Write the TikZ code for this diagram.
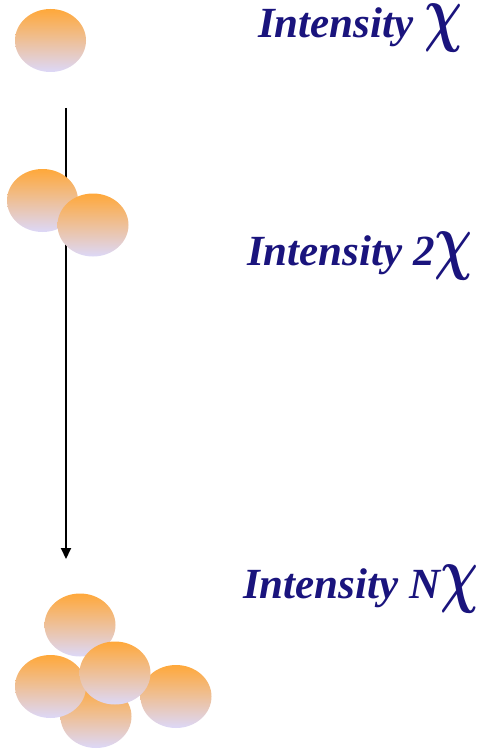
\documentclass[tikz,border=0pt]{standalone}
\usepackage{amsmath}
\usepackage{bm}
\usepackage{fontspec}
\setmainfont{Liberation Serif}
\usepackage{graphicx}
\usepackage{tikz}
\usetikzlibrary{shapes.geometric, arrows.meta, positioning}
\definecolor{dropTop}{RGB}{255,168,58}
\definecolor{dropBottom}{RGB}{220,216,248}
\definecolor{labelBlue}{RGB}{26,20,125}
\tikzstyle{drop} = [ellipse,
minimum width=71pt,
minimum height=63pt,
inner sep=0pt,
top color=dropTop,
bottom color=dropBottom]
\tikzstyle{intensity} = [anchor=base west,
inner sep=0pt,
text=labelBlue,
font=\fontsize{43}{47}\selectfont\bfseries\itshape]
\tikzstyle{arrow} = [line width=2pt,-{Triangle[width=10pt,length=11pt]}]
\newcommand{\bigchi}{\resizebox*{38pt}{48pt}{$\bm{\chi}$}}
\begin{document}
\begin{tikzpicture}[x=1pt, y=-1pt]
                \useasboundingbox (0,0) rectangle (485,749);
                \coordinate (arrowtop) at (66,108);
                \coordinate (arrowend) at (66,559);
                \draw [arrow] (arrowtop) -- (arrowend);

                % one drop
                \node (one) [drop] at (50.5,40.5) {};
                % two drops
                \node (twoa) [drop] at (42.5,200.5) {};
                \node (twob) [drop] at (93,225) {};
                % many drops
                \node (ntop) [drop] at (80,625) {};
                \node (nbottom) [drop] at (96,716.5) {};
                \node (nleft) [drop] at (50.5,686.5) {};
                \node (nright) [drop] at (176,696.5) {};
                \node (nmid) [drop] at (115,673) {};

                \node (lbl1) [intensity] at (258,38) {Intensity \bigchi};
                \node (lbl2) [intensity] at (247,265) {Intensity 2\bigchi};
                \node (lblN) [intensity] at (243,598) {Intensity N\bigchi};
            \end{tikzpicture}
\end{document}
